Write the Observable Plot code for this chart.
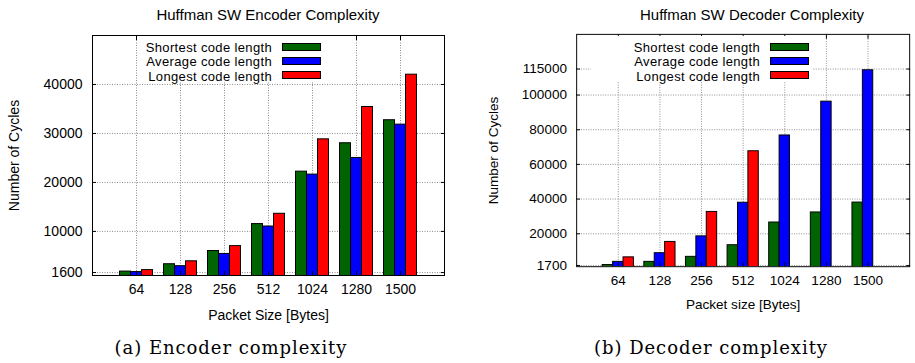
<!DOCTYPE html>
<html><head><meta charset="utf-8">
<script src="https://cdn.jsdelivr.net/npm/d3@7"></script>
<script src="https://cdn.jsdelivr.net/npm/@observablehq/plot@0.6"></script>
<style>
html,body{margin:0;padding:0;background:#fff;}
body{width:915px;height:363px;overflow:hidden;position:relative;font-family:"Liberation Sans",Arial,sans-serif;color:#000;}
.panel{position:absolute;top:0;}
.title{position:absolute;top:7px;font-size:15px;line-height:15px;white-space:nowrap;transform:translateX(-50%);}
.caption{position:absolute;top:339px;font-family:"DejaVu Serif",serif;font-size:18px;line-height:18px;letter-spacing:0.95px;white-space:nowrap;transform:translateX(-50%);}
.legbox{position:absolute;background:#fff;}
.legtxt{position:absolute;font-size:13px;line-height:14px;letter-spacing:0.35px;white-space:nowrap;transform:translateX(-100%);}
.legsw{position:absolute;width:39px;height:8px;box-sizing:border-box;border:1px solid #000;}
</style>
</head><body>
<script>
const packetSizes = ["64", "128", "256", "512", "1024", "1280", "1500"];
const seriesNames = ["Shortest code length", "Average code length", "Longest code length"];
const seriesColors = ["#006400", "#0000ff", "#ff0000"];

const encShortest = [1800, 3300, 6000, 11500, 22200, 28000, 32700];
const encAverage  = [1700, 2900, 5400, 11000, 21600, 25000, 31800];
const encLongest  = [2100, 3900, 7000, 13600, 28800, 35400, 42000];
const encYTicks = [1600, 10000, 20000, 30000, 40000];

const decShortest = [2000, 3800, 6700, 13400, 26500, 32300, 38000];
const decAverage  = [3800, 8800, 18500, 37900, 76700, 96200, 114300];
const decLongest  = [6400, 15300, 32600, 67600, null, null, null];
const decYTicks = [1700, 20000, 40000, 60000, 80000, 100000, 115000];

function rowsOf(seriesArrays) {
  const rows = [];
  seriesArrays.forEach((arr, s) => arr.forEach((v, i) => {
    if (v != null) rows.push({i, s, series: seriesNames[s], value: v});
  }));
  return rows;
}

const nS = seriesNames.length;
const barW = 1 / (nS + 1);
const xIdx = d3.range(packetSizes.length);

function chart({rows, yDomain, yTicks, width, marginLeft, marginRight, yLabelOffset, xLabel}) {
  const grid = {stroke: "#8c8c8c", strokeOpacity: 1, strokeDasharray: "1,1.5", strokeWidth: 1};
  return Plot.plot({
    width, height: 330,
    marginTop: 35, marginBottom: 55, marginLeft, marginRight,
    style: {fontFamily: "'Liberation Sans', Arial, sans-serif", fontSize: "14px", color: "#000", background: "transparent", overflow: "visible"},
    x: {domain: [-1, packetSizes.length], axis: null},
    y: {domain: yDomain, axis: null},
    color: {domain: seriesNames, range: seriesColors},
    marks: [
      Plot.gridX(xIdx, grid),
      Plot.gridY(yTicks, grid),
      Plot.rectY(rows, {
        x1: d => d.i + (d.s - (nS - 1) / 2) * barW - barW / 2,
        x2: d => d.i + (d.s - (nS - 1) / 2) * barW + barW / 2,
        y1: 0, y2: "value", fill: "series", stroke: "#000", strokeWidth: 1, clip: true
      }),
      Plot.axisY(yTicks, {anchor: "left", tickSize: -4, tickPadding: 14, tickFormat: d3.format("d"), label: "Number of Cycles", labelAnchor: "center", labelOffset: yLabelOffset, labelArrow: "none"}),
      Plot.axisY(yTicks, {anchor: "right", tickSize: -4, tickFormat: () => "", label: null}),
      Plot.axisX(xIdx, {anchor: "bottom", tickSize: -4, tickPadding: 13, tickFormat: i => packetSizes[i], label: xLabel, labelAnchor: "center", labelOffset: 44, labelArrow: "none"}),
      Plot.axisX(xIdx, {anchor: "top", tickSize: -4, tickFormat: () => "", label: null}),
      Plot.frame({stroke: "#000", strokeWidth: 1})
    ]
  });
}

function addPanel(svg, left) {
  const div = document.createElement("div");
  div.className = "panel";
  div.style.left = left + "px";
  div.appendChild(svg);
  document.body.appendChild(div);
}
function addEl(cls, text, css) {
  const el = document.createElement("div");
  el.className = cls;
  if (text) el.textContent = text;
  Object.assign(el.style, css);
  document.body.appendChild(el);
  return el;
}
function addLegend(boxLeft, boxRight, textRight, swLeft) {
  addEl("legbox", "", {left: boxLeft + "px", top: "36px", width: (boxRight - boxLeft) + "px", height: "46px"});
  seriesNames.forEach((name, k) => {
    addEl("legtxt", name, {left: textRight + "px", top: (40.5 + 14.6 * k) + "px"});
    addEl("legsw", "", {left: swLeft + "px", top: (43 + 14.2 * k) + "px", background: seriesColors[k]});
  });
}

addPanel(chart({
  rows: rowsOf([encShortest, encAverage, encLongest]),
  yDomain: [1000, 50000], yTicks: encYTicks,
  width: 460, marginLeft: 92, marginRight: 16, yLabelOffset: 83,
  xLabel: "Packet Size [Bytes]"
}), 0);
addPanel(chart({
  rows: rowsOf([decShortest, decAverage, decLongest]),
  yDomain: [1000, 135000], yTicks: decYTicks,
  width: 470, marginLeft: 120, marginRight: 6, yLabelOffset: 91,
  xLabel: "Packet size [Bytes]"
}), 460);

addLegend(139, 325, 272, 282);
addLegend(591, 813, 760, 770);

addEl("title", "Huffman SW Encoder Complexity", {left: "268px"});
addEl("title", "Huffman SW Decoder Complexity", {left: "752px"});
addEl("caption", "(a) Encoder complexity", {left: "231px"});
addEl("caption", "(b) Decoder complexity", {left: "711px"});
</script>
</body></html>
